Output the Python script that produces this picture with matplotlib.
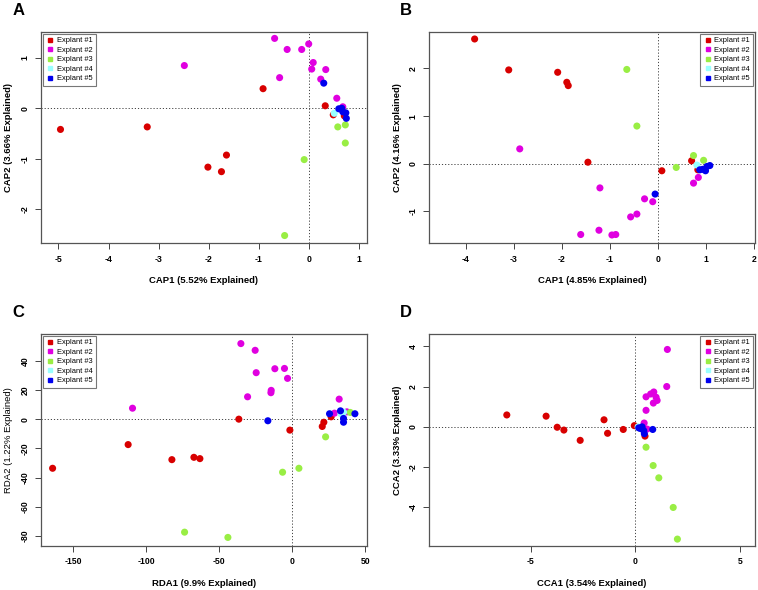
import numpy as np
import matplotlib.pyplot as plt
from matplotlib.lines import Line2D

plt.rcParams['font.family'] = ['Liberation Sans', 'DejaVu Sans']
plt.rcParams['axes.unicode_minus'] = False

labels = ['Explant #1', 'Explant #2', 'Explant #3', 'Explant #4', 'Explant #5']
colors = ['#D80000', '#E000E0', '#99EE44', '#99FFFF', '#0000EE']

# Panel A - CAP
a_x = [[-4.96, -3.23, -2.02, -1.75, -1.65, -0.92, 0.32, 0.48, 0.70],
       [-2.49, -0.69, -0.44, -0.15, -0.01, 0.08, 0.05, 0.33, -0.59, 0.23, 0.55, 0.67],
       [-0.10, -0.49, 0.57, 0.72, 0.72],
       [0.50],
       [0.29, 0.59, 0.65, 0.73, 0.74, 0.67]]
a_y = [[-0.42, -0.37, -1.17, -1.26, -0.93, 0.39, 0.05, -0.13, -0.15],
       [0.85, 1.39, 1.17, 1.17, 1.28, 0.91, 0.78, 0.77, 0.61, 0.58, 0.20, 0.03],
       [-1.02, -2.53, -0.37, -0.33, -0.69],
       [-0.10],
       [0.50, -0.01, 0.00, -0.09, -0.20, -0.07]]

# Panel B - CAP
b_x = [[-3.82, -3.11, -2.09, -1.90, -1.87, -1.46, 0.08, 0.70, 0.83],
       [-2.88, -1.21, -0.28, -0.11, -0.44, -0.57, -1.23, -1.61, -0.96, -0.88, 0.74, 0.84],
       [-0.65, -0.44, 0.38, 0.74, 0.95],
       [0.81],
       [-0.06, 0.87, 0.99, 1.02, 1.08, 0.93]]
b_y = [[2.62, 1.97, 1.92, 1.71, 1.64, 0.03, -0.15, 0.06, -0.13],
       [0.31, -0.51, -0.74, -0.80, -1.06, -1.12, -1.40, -1.49, -1.50, -1.49, -0.41, -0.29],
       [1.98, 0.79, -0.08, 0.17, 0.07],
       [-0.03],
       [-0.64, -0.13, -0.15, -0.06, -0.04, -0.12]]

# Panel C - RDA
c_x = [[-164.3, -112.5, -82.5, -67.4, -63.3, -36.6, -1.6, 20.6, 21.7, 26.7],
       [-109.5, -35.2, -25.4, -24.7, -11.9, -5.3, -3.2, -14.4, -14.6, -30.6, 32.2, 29.0, 37.5],
       [-73.8, -44.1, -6.6, 4.6, 22.9, 39.8],
       [33.4, 35.2],
       [-16.7, 25.6, 33.1, 35.2, 35.2, 43.0]]
c_y = [[-33.6, -17.4, -27.7, -26.1, -27.0, 0.0, -7.5, -5.0, -2.1, 1.6],
       [7.5, 51.7, 47.1, 31.8, 34.5, 34.7, 27.9, 19.7, 18.1, 15.3, 13.7, 4.1, 5.0],
       [-77.3, -80.9, -36.3, -33.6, -12.1, 4.6],
       [3.7, 4.8],
       [-1.1, 3.7, 5.7, 0.5, -2.1, 3.7]]

# Panel D - CCA
d_x = [[-6.15, -4.27, -3.74, -3.42, -2.64, -1.50, -1.33, -0.58, -0.05, 0.46],
       [1.53, 1.50, 0.51, 0.88, 0.99, 1.04, 0.86, 0.51, 0.42, 0.73, 0.56],
       [0.51, 0.85, 1.12, 1.81, 2.01],
       [0.13],
       [0.16, 0.32, 0.40, 0.43, 0.83, 0.24]]
d_y = [[0.59, 0.53, -0.02, -0.16, -0.67, 0.35, -0.32, -0.13, 0.06, -0.46],
       [3.84, 2.00, 1.49, 1.73, 1.47, 1.31, 1.18, 0.82, 0.19, 1.63, -0.11],
       [-1.01, -1.92, -2.53, -4.00, -5.57],
       [0.00],
       [-0.05, 0.00, -0.19, -0.34, -0.13, -0.08]]

panels = [
    ('A', a_x, a_y, 'CAP1 (5.52% Explained)', 'CAP2 (3.66% Explained)', 'bold',
     (-5.35, 1.15), (-2.68, 1.52), [-5, -4, -3, -2, -1, 0, 1], [-2, -1, 0, 1], 'upper left',
     [0.054, 0.588, 0.430, 0.358]),
    ('B', b_x, b_y, 'CAP1 (4.85% Explained)', 'CAP2 (4.16% Explained)', 'bold',
     (-4.77, 2.02), (-1.67, 2.77), [-4, -3, -2, -1, 0, 1, 2], [-1, 0, 1, 2], 'upper right',
     [0.566, 0.588, 0.430, 0.358]),
    ('C', c_x, c_y, 'RDA1 (9.9% Explained)', 'RDA2 (1.22% Explained)', 'normal',
     (-172.3, 51.2), (-86.6, 58.3), [-150, -100, -50, 0, 50], [-80, -60, -40, -20, 0, 20, 40], 'upper left',
     [0.054, 0.075, 0.430, 0.359]),
    ('D', d_x, d_y, 'CCA1 (3.54% Explained)', 'CCA2 (3.33% Explained)', 'bold',
     (-9.87, 5.72), (-5.90, 4.61), [-5, 0, 5], [-4, -2, 0, 2, 4], 'upper right',
     [0.566, 0.075, 0.430, 0.359]),
]

fig = plt.figure(figsize=(7.58, 5.90), dpi=100)

for letter, xs, ys, xlab, ylab, yweight, xlim, ylim, xt, yt, loc, pos in panels:
    ax = fig.add_axes(pos)
    for gx, gy, c in zip(xs, ys, colors):
        ax.scatter(gx, gy, s=26, color=c, edgecolors='none', zorder=3)
    ax.axhline(0, color='#444444', lw=0.7, ls=(0, (1.2, 2)), zorder=1)
    ax.axvline(0, color='#444444', lw=0.7, ls=(0, (1.2, 2)), zorder=1)
    ax.set_xlim(xlim)
    ax.set_ylim(ylim)
    ax.set_xticks(xt)
    ax.set_yticks(yt)
    ax.set_yticklabels([str(v) for v in yt], rotation=90, va='center')
    ax.tick_params(labelsize=6.2, length=4.3, width=0.7, color='#444444', pad=4)
    for lb in ax.get_xticklabels() + ax.get_yticklabels():
        lb.set_fontweight('bold')
    for sp in ax.spines.values():
        sp.set_color('#555555')
        sp.set_linewidth(0.9)
    ax.set_xlabel(xlab, fontsize=6.8, fontweight='bold', labelpad=9)
    ax.set_ylabel(ylab, fontsize=6.8, fontweight=yweight, labelpad=5)
    handles = [Line2D([], [], marker='s', ls='none', color=c, markersize=2.5) for c in colors]
    leg = ax.legend(handles, labels, loc=loc, fontsize=5.4, frameon=True, fancybox=False,
                    borderaxespad=0.25, handletextpad=0.3, labelspacing=0.3,
                    handlelength=1.1, borderpad=0.45)
    leg.get_frame().set_edgecolor('#555555')
    leg.get_frame().set_linewidth(0.8)
    fig.text(pos[0] - 0.038, pos[1] + pos[3] + 0.036, letter, fontsize=12, fontweight='bold',
             va='center', ha='left')

fig.savefig('out.png', dpi=100)
